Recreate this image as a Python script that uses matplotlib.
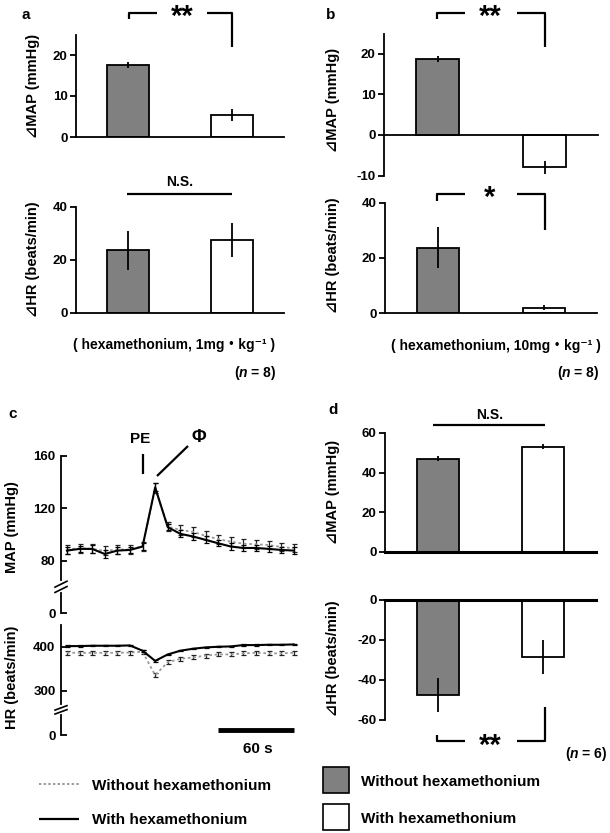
import matplotlib
matplotlib.use('Agg')
import matplotlib.pyplot as plt
from matplotlib.patches import Rectangle

plt.rcParams['font.family'] = ['Liberation Sans', 'DejaVu Sans', 'Noto Sans CJK JP']
plt.rcParams['font.weight'] = 'bold'
plt.rcParams['mathtext.fontset'] = 'custom'
plt.rcParams['mathtext.it'] = 'Liberation Sans:italic:bold'
plt.rcParams['mathtext.rm'] = 'Liberation Sans:bold'
plt.rcParams['axes.linewidth'] = 1.3
plt.rcParams['axes.unicode_minus'] = False

# ---------------- data ----------------
groups = ['Without hexamethonium', 'With hexamethonium']
bar_colors = ['#808080', '#ffffff']

a_map = [17.5, 5.4]
a_map_err = [0.7, 1.4]
a_hr = [23.5, 27.5]
a_hr_err = [7.5, 6.5]

b_map = [18.7, -8.0]
b_map_err = [0.8, 1.6]
b_hr = [23.7, 2.0]
b_hr_err = [7.5, 0.8]

d_map = [47.0, 53.0]
d_map_err = [1.2, 1.3]
d_hr = [-47.5, -28.5]
d_hr_err = [8.5, 8.5]

time_s = [0, 10, 20, 30, 40, 50, 60, 70, 80, 90, 100, 110, 120, 130, 140, 150, 160, 170, 180]
map_with = [87.7, 89.0, 89.0, 85.1, 87.7, 88.2, 90.8, 136.0, 105.6, 100.5, 98.5, 95.9, 93.3, 90.8, 89.7, 89.7, 89.0, 88.2, 87.7]
map_with_err = [2.5, 2.5, 2.8, 3.0, 2.6, 2.4, 2.6, 3.0, 2.2, 2.6, 2.8, 2.6, 2.4, 2.6, 2.5, 2.6, 2.4, 2.5, 2.4]
map_without = [88.5, 89.5, 89.0, 87.5, 88.5, 88.5, 91.0, 135.5, 106.0, 103.5, 102.0, 99.0, 96.5, 94.5, 93.0, 92.5, 92.0, 90.5, 89.5]
map_without_err = [3.2, 3.4, 3.5, 3.5, 3.3, 3.2, 3.4, 3.5, 3.4, 3.6, 3.8, 3.5, 3.4, 3.5, 3.4, 3.6, 3.4, 3.3, 3.2]
hr_with = [401.5, 401.5, 402.3, 402.3, 402.3, 403.0, 391.0, 368.0, 382.6, 391.0, 395.5, 398.5, 400.0, 400.8, 403.8, 403.8, 404.5, 404.5, 405.3]
hr_with_err = [1.5, 1.5, 1.5, 1.5, 1.5, 1.5, 1.8, 2.0, 1.8, 1.6, 1.5, 1.5, 1.5, 1.5, 1.5, 1.5, 1.5, 1.5, 1.5]
hr_without = [386.4, 386.4, 386.0, 386.4, 386.4, 386.8, 388.6, 335.6, 365.0, 372.7, 375.8, 380.0, 382.6, 382.6, 385.0, 386.4, 385.0, 385.0, 386.4]
hr_without_err = [4.5, 4.5, 4.5, 4.5, 4.5, 4.5, 4.5, 5.0, 4.5, 4.5, 4.5, 4.5, 4.5, 4.5, 4.5, 4.5, 4.5, 4.5, 4.5]

# ---------------- figure ----------------
W, H = 610, 833
fig = plt.figure(figsize=(W / 100, H / 100), dpi=100)


def add_ax(x0, y0, x1, y1):
    return fig.add_axes([x0 / W, 1 - y1 / H, (x1 - x0) / W, (y1 - y0) / H])


def bar_panel(rect, vals, errs, ylim, yticks, base_lw=1.3):
    ax = add_ax(*rect)
    xs = [0, 1]
    ax.bar(xs, vals, width=0.4, color=bar_colors, edgecolor='black', linewidth=1.3, zorder=2)
    ax.errorbar(xs, vals, yerr=errs, fmt='none', ecolor='black', elinewidth=1.3, capsize=0, zorder=3)
    ax.set_xlim(-0.5, 1.5)
    ax.set_ylim(*ylim)
    ax.set_yticks(yticks)
    ax.axhline(0, color='black', lw=base_lw, zorder=4, clip_on=False)
    for s in ['top', 'right', 'bottom']:
        ax.spines[s].set_visible(False)
    ax.set_xticks([])
    ax.tick_params(axis='y', direction='out', length=4, width=1.3, labelsize=9.5, pad=2)
    for lab in ax.get_yticklabels():
        lab.set_fontweight('bold')
    ax.patch.set_alpha(0)
    return ax


ax_a1 = bar_panel((76, 34.5, 284, 137), a_map, a_map_err, (0, 25), [0, 10, 20])
ax_a2 = bar_panel((76, 206.7, 284, 312.7), a_hr, a_hr_err, (0, 40), [0, 20, 40])
ax_b1 = bar_panel((384, 33.5, 598, 175.5), b_map, b_map_err, (-10, 25), [-10, 0, 10, 20])
ax_b2 = bar_panel((385, 203, 597, 313), b_hr, b_hr_err, (0, 40), [0, 20, 40])
ax_d1 = bar_panel((385, 433, 596, 552), d_map, d_map_err, (0, 60), [0, 20, 40, 60], base_lw=2.2)
ax_d2 = bar_panel((385, 600, 596, 720), d_hr, d_hr_err, (-60, 0), [-60, -40, -20, 0], base_lw=2.2)

# ---------------- panel c ----------------
ax_c1 = add_ax(61, 456, 300, 613)
ax_c2 = add_ax(61, 624.7, 300, 735)
xl = (-4.7, 184.9)
for ax in (ax_c1, ax_c2):
    ax.set_xlim(*xl)
    for s in ['top', 'right', 'bottom']:
        ax.spines[s].set_visible(False)
    ax.set_xticks([])
    ax.tick_params(axis='y', direction='in', length=4, width=1.3, labelsize=9.5, pad=4)
    ax.patch.set_alpha(0)

ax_c1.errorbar(time_s, map_without, yerr=map_without_err, color='#999999', ls=(0, (1.5, 1.5)), lw=1.3,
               ecolor='#222222', elinewidth=0.9, capsize=1.8, capthick=0.9, zorder=2)
ax_c1.errorbar(time_s, map_with, yerr=map_with_err, color='black', ls='-', lw=1.5,
               ecolor='black', elinewidth=0.9, capsize=1.8, capthick=0.9, zorder=3)
ax_c1.set_ylim(40, 160)
ax_c1.set_yticks([40, 80, 120, 160])
ax_c1.set_yticklabels(['0', '80', '120', '160'])

ax_c2.errorbar(time_s, hr_without, yerr=hr_without_err, color='#999999', ls=(0, (1.5, 1.5)), lw=1.3,
               ecolor='#222222', elinewidth=0.9, capsize=1.8, capthick=0.9, zorder=2)
ax_c2.errorbar(time_s, hr_with, yerr=hr_with_err, color='black', ls='-', lw=1.5,
               ecolor='black', elinewidth=0.9, capsize=1.8, capthick=0.9, zorder=3)
ax_c2.set_ylim(200, 450)
ax_c2.set_yticks([200, 300, 400])
ax_c2.set_yticklabels(['0', '300', '400'])
for ax in (ax_c1, ax_c2):
    for lab in ax.get_yticklabels():
        lab.set_fontweight('bold')


def axis_break(ax, yc, dy):
    tr = ax.get_yaxis_transform()
    ax.plot([0, 0], [yc - dy * 0.6, yc + dy * 0.6], color='white', lw=3, transform=tr, clip_on=False, zorder=5)
    for off in (-dy * 0.45, dy * 0.45):
        ax.plot([-0.025, 0.025], [yc + off - dy * 0.5, yc + off + dy * 0.5], color='black', lw=1.2,
                transform=tr, clip_on=False, zorder=6)


axis_break(ax_c1, 60, 4.5)
axis_break(ax_c2, 257, 10)

# 60 s scale bar (in HR axes data units)
ax_c2.plot([120, 180], [211, 211], color='black', lw=3.5, solid_capstyle='butt', clip_on=False)

# ---------------- overlay for annotations ----------------
ov = fig.add_axes([0, 0, 1, 1])
ov.set_xlim(0, W)
ov.set_ylim(H, 0)
ov.axis('off')
ov.patch.set_alpha(0)
ov.set_zorder(10)

LW = 1.6


def line(xs, ys, lw=LW, **kw):
    ov.plot(xs, ys, color=kw.pop('color', 'black'), lw=lw, solid_capstyle='butt', **kw)


def bracket_top(xl_, xr, y, yl, yr, gap=(157, 207)):
    line([xl_, xl_, gap[0]], [yl, y, y])
    line([gap[1], xr, xr], [y, y, yr])


def stars(x, y, s):
    ov.text(x, y, s, ha='center', va='baseline', fontsize=21, fontweight='bold')


# panel letters
for x, y, s in [(26, 15, 'a'), (331, 15, 'b'), (13, 414, 'c'), (333, 410, 'd')]:
    ov.text(x, y, s, ha='center', va='center', fontsize=11, fontweight='bold')

# y labels
ylabs = [(33, 86, '⊿MAP (mmHg)'), (33, 259, '⊿HR (beats/min)'),
         (333, 100, '⊿MAP (mmHg)'), (333, 255, '⊿HR (beats/min)'),
         (333, 492, '⊿MAP (mmHg)'), (333, 658, '⊿HR (beats/min)'),
         (12, 527, 'MAP (mmHg)'), (12, 677, 'HR (beats/min)')]
for x, y, s in ylabs:
    ov.text(x, y, s, ha='center', va='center', rotation=90, fontsize=10.5, fontweight='bold')

# a
bracket_top(129, 232, 13, 19, 47, gap=(157, 207))
stars(182, 25, '**')
line([127, 232], [194, 194])
ov.text(180, 182, 'N.S.', ha='center', va='center', fontsize=10, fontweight='bold')
ov.text(174.5, 345, '( hexamethonium, 1mg・kg⁻¹ )', ha='center', va='center', fontsize=10, fontweight='bold')
ov.text(277, 373, '($n$ = 8)', ha='right', va='center', fontsize=10, fontweight='bold')

# b
bracket_top(437, 545, 13, 19, 46.5, gap=(465, 517))
stars(490, 25, '**')
bracket_top(437, 545, 194, 201, 230, gap=(465, 517))
stars(490, 206, '*')
ov.text(495.5, 346, '( hexamethonium, 10mg・kg⁻¹ )', ha='center', va='center', fontsize=10, fontweight='bold')
ov.text(600, 373, '($n$ = 8)', ha='right', va='center', fontsize=10, fontweight='bold')

# c annotations
ov.text(140, 439, 'PE', ha='center', va='center', fontsize=11, fontweight='bold')
line([143, 143], [454, 474])
ov.text(199, 437, 'Φ', ha='center', va='center', fontsize=13, fontweight='bold')
line([157, 188], [476, 446])
ov.text(258, 749, '60 s', ha='center', va='center', fontsize=11, fontweight='bold')

# left legend
line([39, 79], [784, 784], lw=1.4, color='#999999', ls=(0, (1.2, 1.2)))
ov.text(92, 786, 'Without hexamethonium', ha='left', va='center', fontsize=11, fontweight='bold')
line([39, 79], [819, 819], lw=1.6)
ov.text(92, 820, 'With hexamethonium', ha='left', va='center', fontsize=11, fontweight='bold')

# d
line([433, 545], [425, 425])
ov.text(490, 415, 'N.S.', ha='center', va='center', fontsize=10, fontweight='bold')
line([437, 437, 465], [735, 741, 741])
line([517, 545, 545], [741, 741, 707])
stars(490, 754, '**')
ov.text(608, 754, '($n$ = 6)', ha='right', va='center', fontsize=10, fontweight='bold')

# right legend
ov.add_patch(Rectangle((323, 767), 26, 26, facecolor=bar_colors[0], edgecolor='black', lw=1.2))
ov.add_patch(Rectangle((323, 803.5), 26, 26, facecolor=bar_colors[1], edgecolor='black', lw=1.2))
ov.text(361, 782, groups[0], ha='left', va='center', fontsize=11, fontweight='bold')
ov.text(361, 819, groups[1], ha='left', va='center', fontsize=11, fontweight='bold')

fig.savefig('out.png', dpi=100)
